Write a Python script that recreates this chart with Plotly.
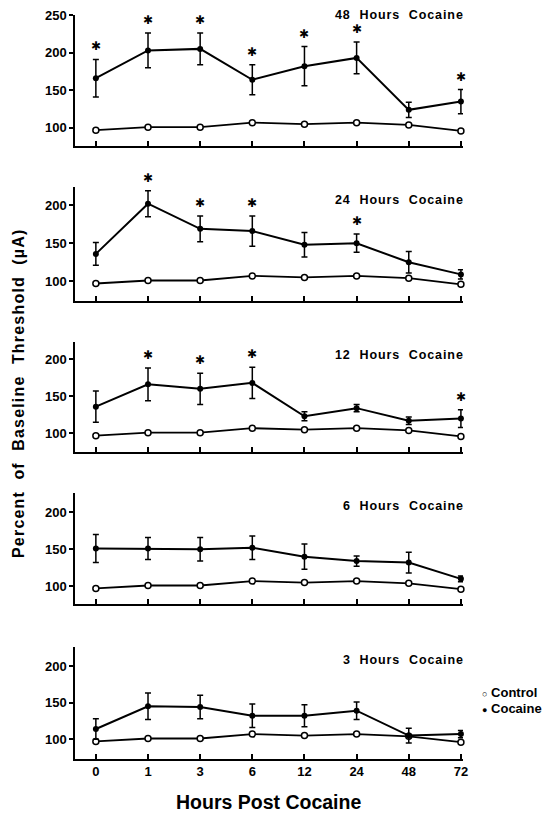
import plotly.graph_objects as go

# Hours after the last cocaine exposure (categorical, evenly spaced)
hours = ["0", "1", "3", "6", "12", "24", "48", "72"]

# Control group (same saline baseline in every panel)
control_mean = [97, 101, 101, 107, 105, 107, 104, 96]
control_sem = [1, 1, 1, 2, 2, 2, 2, 1]

# Cocaine groups, one per exposure duration
panel_titles = ["48 Hours Cocaine", "24 Hours Cocaine", "12 Hours Cocaine",
                "6 Hours Cocaine", "3 Hours Cocaine"]

cocaine_48_mean = [166, 203, 205, 164, 182, 193, 124, 135]
cocaine_48_sem = [25, 23, 21, 20, 26, 21, 10, 16]
cocaine_48_sig = [0, 1, 2, 3, 4, 5, 7]

cocaine_24_mean = [136, 202, 169, 166, 148, 150, 125, 109]
cocaine_24_sem = [15, 17, 17, 20, 16, 12, 14, 6]
cocaine_24_sig = [1, 2, 3, 5]

cocaine_12_mean = [136, 166, 160, 168, 123, 134, 117, 120]
cocaine_12_sem = [21, 22, 21, 21, 6, 5, 5, 12]
cocaine_12_sig = [1, 2, 3, 7]

cocaine_6_mean = [151, 151, 150, 152, 140, 134, 132, 110]
cocaine_6_sem = [19, 15, 16, 16, 17, 7, 14, 4]
cocaine_6_sig = []

cocaine_3_mean = [114, 145, 144, 132, 132, 139, 105, 107]
cocaine_3_sem = [14, 18, 16, 16, 15, 12, 10, 5]
cocaine_3_sig = []

cocaine_means = [cocaine_48_mean, cocaine_24_mean, cocaine_12_mean, cocaine_6_mean, cocaine_3_mean]
cocaine_sems = [cocaine_48_sem, cocaine_24_sem, cocaine_12_sem, cocaine_6_sem, cocaine_3_sem]
cocaine_sigs = [cocaine_48_sig, cocaine_24_sig, cocaine_12_sig, cocaine_6_sig, cocaine_3_sig]

y_ranges = [[76, 250], [74, 224], [75, 223], [76, 226], [73, 226]]
y_ticks = [[100, 150, 200, 250], [100, 150, 200], [100, 150, 200], [100, 150, 200], [100, 150, 200]]

W, H = 550, 816
# panel extents in pixels (top, bottom)
panel_px = [(15, 146), (187, 301), (342, 452), (493, 604), (647, 759)]
x_px = (75, 463)

FONT = "Liberation Sans, Arial, sans-serif"
xpos = list(range(len(hours)))


def spaced(text, gap):
    """Widen words with extra spaces and letter spacing."""
    return (f"<span style='letter-spacing:{gap}px'>"
            + text.replace(" ", "&nbsp;&nbsp;") + "</span>")


fig = go.Figure()
layout = dict(
    width=W, height=H,
    margin=dict(l=0, r=0, t=0, b=0, autoexpand=False),
    paper_bgcolor="white", plot_bgcolor="white",
    showlegend=False,
    font=dict(family=FONT, color="black", size=13),
)
annotations = []

for i in range(5):
    n = i + 1
    xa = "x" if n == 1 else f"x{n}"
    ya = "y" if n == 1 else f"y{n}"
    top, bot = panel_px[i]

    layout["xaxis" if n == 1 else f"xaxis{n}"] = dict(
        domain=[x_px[0] / W, x_px[1] / W],
        range=[-0.4, 7.04],
        anchor=ya, automargin=False,
        showline=True, linecolor="black", linewidth=1.5,
        showgrid=False, zeroline=False,
        ticks="inside", ticklen=5, tickwidth=1.5, tickcolor="black",
        tickvals=xpos, ticktext=hours,
        showticklabels=(n == 5),
        tickfont=dict(family=FONT, size=13, weight="bold", color="black"),
    )
    layout["yaxis" if n == 1 else f"yaxis{n}"] = dict(
        domain=[1 - bot / H, 1 - top / H],
        range=y_ranges[i],
        anchor=xa, automargin=False,
        showline=True, linecolor="black", linewidth=1.5,
        showgrid=False, zeroline=False,
        ticks="outside", ticklen=4, tickwidth=1.5, tickcolor="black",
        tickvals=y_ticks[i],
        tickfont=dict(family=FONT, size=13, weight="bold", color="black"),
    )

    # control series
    fig.add_trace(go.Scatter(
        x=xpos, y=control_mean, xaxis=xa, yaxis=ya,
        mode="lines+markers", name="Control",
        line=dict(color="black", width=1.8),
        marker=dict(symbol="circle", size=6, color="white",
                    line=dict(color="black", width=1.5)),
        error_y=dict(type="data", array=control_sem, color="black",
                     thickness=1.2, width=2),
        cliponaxis=False,
    ))
    # cocaine series
    fig.add_trace(go.Scatter(
        x=xpos, y=cocaine_means[i], xaxis=xa, yaxis=ya,
        mode="lines+markers", name="Cocaine",
        line=dict(color="black", width=2),
        marker=dict(symbol="circle", size=6, color="black"),
        error_y=dict(type="data", array=cocaine_sems[i], color="black",
                     thickness=1.5, width=3),
        cliponaxis=False,
    ))

    # significance stars above error bars
    for k in cocaine_sigs[i]:
        annotations.append(dict(
            x=xpos[k], y=cocaine_means[i][k] + cocaine_sems[i][k],
            xref=xa, yref=ya, text="✱", showarrow=False,
            yanchor="middle", yshift=13,
            font=dict(family="DejaVu Sans", size=12, color="black"),
        ))

    # panel title
    annotations.append(dict(
        x=1, y=1, xref=f"{xa} domain", yref=f"{ya} domain",
        text=spaced(panel_titles[i], 0.9), showarrow=False,
        xanchor="right", yanchor="middle", xshift=3, yshift=0 if n == 1 else -13,
        font=dict(family=FONT, size=12.5, weight="bold", color="black"),
    ))

# axis titles
annotations.append(dict(
    x=268 / W, y=1 - 802 / H, xref="paper", yref="paper",
    text="Hours Post Cocaine", showarrow=False,
    xanchor="center", yanchor="middle",
    font=dict(family=FONT, size=19.5, weight="bold", color="black"),
))
annotations.append(dict(
    x=18 / W, y=1 - 393 / H, xref="paper", yref="paper",
    text=spaced("Percent of Baseline Threshold (µA)", 1.2),
    textangle=-90, showarrow=False, xanchor="center", yanchor="middle",
    font=dict(family=FONT, size=16, weight="bold", color="black"),
))

# key
annotations.append(dict(
    x=480 / W, y=1 - 692 / H, xref="paper", yref="paper",
    text="<span style='font-size:9px'>○</span> Control", showarrow=False,
    xanchor="left", yanchor="middle",
    font=dict(family=FONT, size=13, weight="bold", color="black"),
))
annotations.append(dict(
    x=480 / W, y=1 - 708 / H, xref="paper", yref="paper",
    text="<span style='font-size:9px'>●</span> Cocaine", showarrow=False,
    xanchor="left", yanchor="middle",
    font=dict(family=FONT, size=13, weight="bold", color="black"),
))

layout["annotations"] = annotations
fig.update_layout(**layout)
fig.write_html("out.html")
